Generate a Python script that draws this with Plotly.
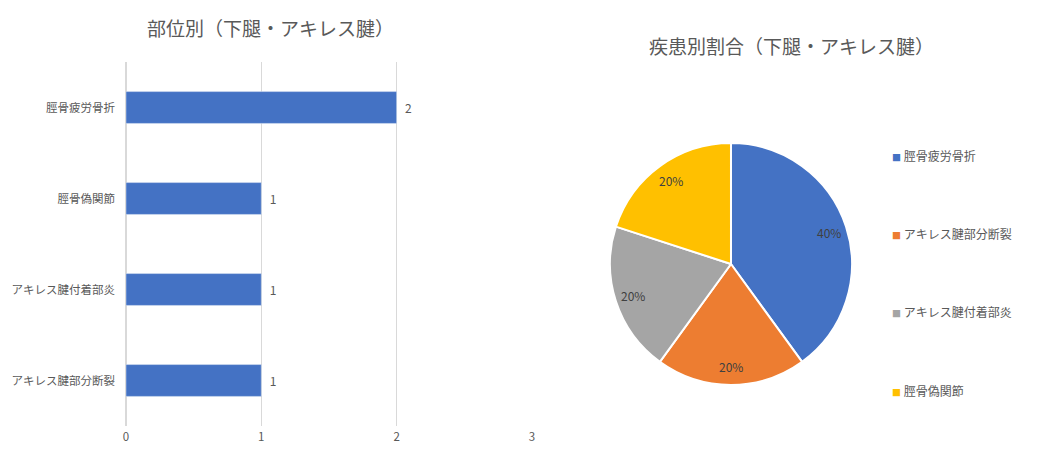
import math
import plotly.graph_objects as go

# 部位別（棒グラフ） 上から順
bar_labels = ["脛骨疲労骨折", "脛骨偽関節", "アキレス腱付着部炎", "アキレス腱部分断裂"]
bar_values = [2, 1, 1, 1]

# 疾患別割合（円グラフ）
pie_labels = ["脛骨疲労骨折", "アキレス腱部分断裂", "アキレス腱付着部炎", "脛骨偽関節"]
pie_values = [2, 1, 1, 1]
pie_colors = ["#4472C4", "#ED7D31", "#A5A5A5", "#FFC000"]

FONT = "Noto Sans CJK JP"
GRAY = "#595959"

# ページのbody余白(8px)ぶん小さくする
W, H = 1025, 437
PIE_X = [0.5873, 0.8234]
PIE_Y = [0.1373, 0.6911]

fig = go.Figure()

bar = go.Bar(
    x=bar_values,
    y=bar_labels,
    orientation="h",
    marker=dict(color="#4472C4"),
    width=0.35,
    text=bar_values,
    texttemplate="\u00a0\u00a0%{x}",
    textposition="outside",
    textfont=dict(color=GRAY, size=12, family=FONT),
    cliponaxis=False,
    showlegend=False,
)
fig.add_trace(bar)

pie = go.Pie(
    labels=pie_labels,
    values=pie_values,
    sort=False,
    direction="clockwise",
    rotation=0,
    marker=dict(colors=pie_colors, line=dict(color="white", width=2)),
    textinfo="none",
    domain=dict(x=PIE_X, y=PIE_Y),
    showlegend=False,
    hoverinfo="label+percent",
)
fig.add_trace(pie)

fig.update_layout(
    width=W,
    height=H,
    margin=dict(l=0, r=0, t=0, b=0),
    paper_bgcolor="white",
    plot_bgcolor="white",
    font=dict(family=FONT, color=GRAY, size=12),
    xaxis=dict(
        domain=[0.1151, 0.5112],
        range=[0, 3],
        dtick=1,
        showgrid=True,
        gridcolor="#D9D9D9",
        gridwidth=1,
        zeroline=True,
        zerolinecolor="#D9D9D9",
        showline=False,
        ticks="",
        ticklabelstandoff=3,
        tickfont=dict(size=11.5, color=GRAY),
        automargin=False,
        fixedrange=True,
    ),
    yaxis=dict(
        domain=[0.0435, 0.8764],
        categoryorder="array",
        categoryarray=bar_labels[::-1],
        showgrid=False,
        showline=False,
        ticks="",
        ticklabelstandoff=10,
        tickfont=dict(size=11.5, color=GRAY),
        automargin=False,
        fixedrange=True,
    ),
)

# タイトル
fig.add_annotation(
    text="部位別（下腿・アキレス腱）", x=262 / W, y=1 - 20 / H,
    xref="paper", yref="paper", xanchor="center", yanchor="middle", showarrow=False,
    font=dict(size=19, color=GRAY, family=FONT),
)
fig.add_annotation(
    text="疾患別割合（下腿・アキレス腱）", x=783 / W, y=1 - 38 / H,
    xref="paper", yref="paper", xanchor="center", yanchor="middle", showarrow=False,
    font=dict(size=19, color=GRAY, family=FONT),
)

# 円グラフのパーセント表示（半径の0.85の位置）
cx = (PIE_X[0] + PIE_X[1]) / 2
cy = (PIE_Y[0] + PIE_Y[1]) / 2
r_px = (PIE_Y[1] - PIE_Y[0]) * H / 2
total = sum(pie_values)
cum = 0
for v in pie_values:
    ang = 2 * math.pi * (cum + v / 2) / total
    cum += v
    fig.add_annotation(
        text=f"{v / total:.0%}",
        x=cx + 0.85 * r_px * math.sin(ang) / W,
        y=cy + 0.85 * r_px * math.cos(ang) / H,
        xref="paper", yref="paper", xanchor="center", yanchor="middle", showarrow=False,
        font=dict(size=12, color="#404040", family=FONT),
    )

# 凡例（右側、縦に広く配置）
legend_y = [147, 225, 303, 382]
for lab, col, py in zip(pie_labels, pie_colors, legend_y):
    fig.add_annotation(
        text=f"<span style='color:{col};font-size:9px'>■</span> {lab}",
        x=882 / W, y=1 - py / H,
        xref="paper", yref="paper", xanchor="left", yanchor="middle", showarrow=False,
        font=dict(size=12, color=GRAY, family=FONT),
    )

fig.write_html("out.html")
